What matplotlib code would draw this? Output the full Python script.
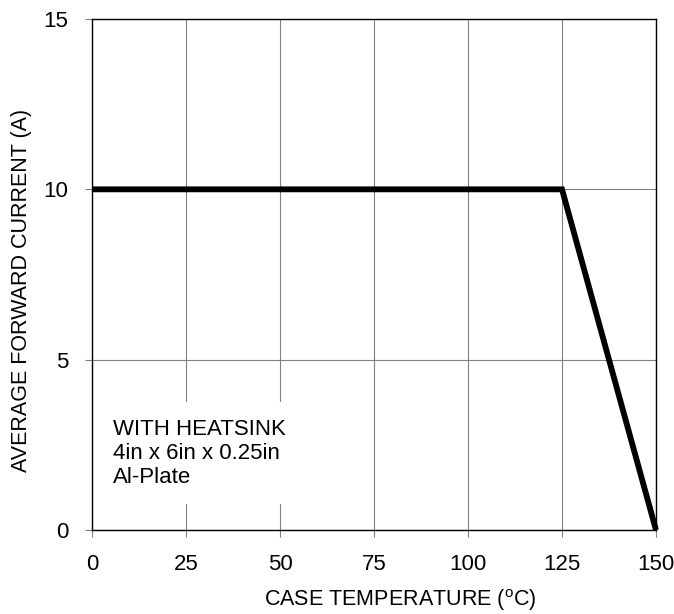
import matplotlib.pyplot as plt

plt.rcParams['font.family'] = ['Liberation Sans', 'DejaVu Sans']
plt.rcParams['mathtext.default'] = 'regular'

# derating curve
temperature = [0, 125, 150]
current = [10, 10, 0]

x_ticks = [0, 25, 50, 75, 100, 125, 150]
y_ticks = [0, 5, 10, 15]

fig = plt.figure(figsize=(6.74, 6.14), dpi=100)
ax = fig.add_axes([92 / 674, 1 - 530 / 614, 564 / 674, 511 / 614])

ax.plot(temperature, current, color='black', linewidth=4.2,
        solid_joinstyle='miter', solid_capstyle='butt', clip_on=False, zorder=5)

ax.set_xlim(0, 150)
ax.set_ylim(0, 15)
ax.set_xticks(x_ticks)
ax.set_yticks(y_ticks)
ax.grid(True, color='#808080', linewidth=0.8)
ax.set_axisbelow(True)
ax.tick_params(direction='out', length=5, width=0.8, color='#808080',
               labelsize=16, pad=12)
ax.tick_params(axis='x', pad=12)
for s in ax.spines.values():
    s.set_linewidth(1.0)
    s.set_color('black')

ax.set_xlabel('CASE TEMPERATURE ($^{o}$C)', fontsize=15.5)
ax.set_ylabel('AVERAGE FORWARD CURRENT (A)', fontsize=15.5)
ax.xaxis.set_label_coords(0.546, -0.112)
ax.yaxis.set_label_coords(-0.106, 0.468)

ax.text(5.6, 2.25, 'WITH HEATSINK\n4in x 6in x 0.25in\nAl-Plate',
        fontsize=16, ha='left', va='center', linespacing=1.17, zorder=4,
        bbox=dict(facecolor='white', edgecolor='none', pad=12))

fig.savefig('out.png', dpi=100)
